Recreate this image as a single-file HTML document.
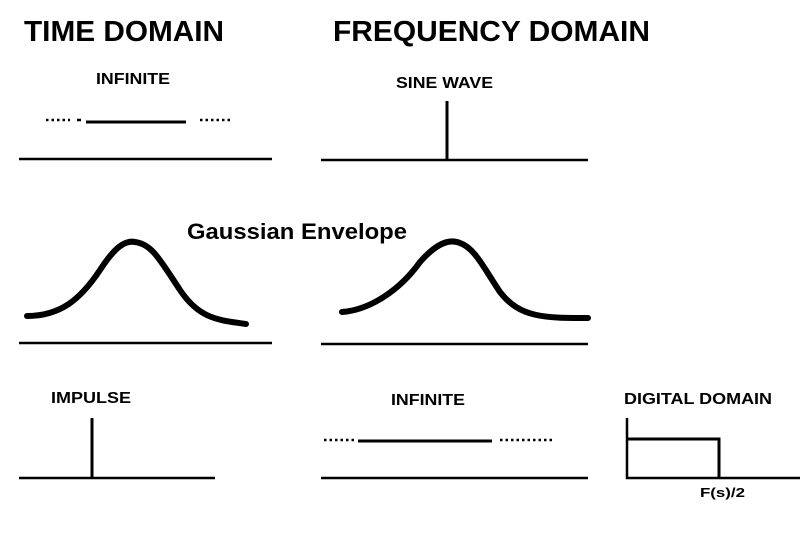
<!DOCTYPE html>
<html><head><meta charset="utf-8"><style>
html,body{margin:0;padding:0;background:#fff;}
svg{display:block;}
text{font-family:"Liberation Sans",Arial,sans-serif;font-weight:bold;fill:#000;}
</style></head><body>
<svg width="800" height="533" viewBox="0 0 800 533" xmlns="http://www.w3.org/2000/svg">
<text x="24" y="41" font-size="29" textLength="200" lengthAdjust="spacingAndGlyphs">TIME DOMAIN</text>
<text x="333" y="41" font-size="29" textLength="317" lengthAdjust="spacingAndGlyphs">FREQUENCY DOMAIN</text>
<text x="96" y="84" font-size="16" textLength="74" lengthAdjust="spacingAndGlyphs">INFINITE</text>
<text x="396" y="88" font-size="16" textLength="97" lengthAdjust="spacingAndGlyphs">SINE WAVE</text>
<text x="187" y="239" font-size="22" textLength="220" lengthAdjust="spacingAndGlyphs">Gaussian Envelope</text>
<text x="51" y="403" font-size="16" textLength="80" lengthAdjust="spacingAndGlyphs">IMPULSE</text>
<text x="391" y="405" font-size="16" textLength="74" lengthAdjust="spacingAndGlyphs">INFINITE</text>
<text x="624" y="404" font-size="16" textLength="148" lengthAdjust="spacingAndGlyphs">DIGITAL DOMAIN</text>
<text x="700" y="497" font-size="13" textLength="45" lengthAdjust="spacingAndGlyphs">F(s)/2</text>
<g stroke="#000" fill="none">
<line x1="46" y1="120" x2="70" y2="120" stroke-width="2.5" stroke-dasharray="2.5,3"/>
<line x1="77" y1="120" x2="81" y2="120" stroke-width="2.5"/>
<line x1="86" y1="122" x2="186" y2="122" stroke-width="3"/>
<line x1="200" y1="120" x2="232" y2="120" stroke-width="2.5" stroke-dasharray="2.5,3"/>
<line x1="19" y1="159" x2="272" y2="159" stroke-width="2.5"/>
<line x1="321" y1="160" x2="588" y2="160" stroke-width="2.5"/>
<line x1="447" y1="101" x2="447" y2="160" stroke-width="3"/>
<path d="M27,316 C60,316 80,300 100,270 C115,247 125,240 135,242 C152,244 160,260 180,290 C200,320 220,320 246,324" stroke-width="6" stroke-linecap="round"/>
<path d="M342,312 C370,310 400,290 420,262 C435,245 448,238 460,243 C475,248 485,270 500,292 C520,318 545,318 588,318" stroke-width="6" stroke-linecap="round"/>
<line x1="19" y1="343" x2="272" y2="343" stroke-width="2.5"/>
<line x1="321" y1="344" x2="588" y2="344" stroke-width="2.5"/>
<line x1="92" y1="418" x2="92" y2="479" stroke-width="3"/>
<line x1="19" y1="478" x2="215" y2="478" stroke-width="2.5"/>
<line x1="324" y1="440" x2="356" y2="440" stroke-width="2.5" stroke-dasharray="2.5,3"/>
<line x1="358" y1="441" x2="492" y2="441" stroke-width="3"/>
<line x1="500" y1="440" x2="552" y2="440" stroke-width="2.5" stroke-dasharray="2.5,3"/>
<line x1="321" y1="478" x2="588" y2="478" stroke-width="2.5"/>
<polyline points="627,418 627,478 800,478" stroke-width="2.5"/>
<polyline points="627,439 719,439 719,478" stroke-width="3"/>
</g>
</svg>
</body></html>
